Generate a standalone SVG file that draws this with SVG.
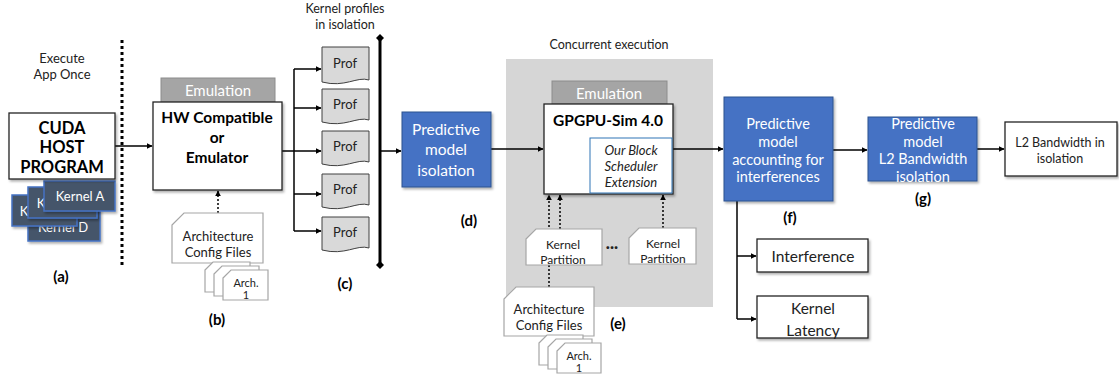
<svg xmlns="http://www.w3.org/2000/svg" width="1119" height="377" viewBox="0 0 1119 377">
<style>
text{font-family:Lato,"Open Sans","Liberation Sans",sans-serif;text-anchor:middle;dominant-baseline:central}
.lbl{font-weight:bold;fill:#000}
.cap{fill:#222}
.box{fill:#fff;stroke:#222;stroke-width:1.3}
.blue{fill:#4472C4;stroke:#2F528F;stroke-width:1}
.wt{fill:#fff}
.kern{fill:#44546A;stroke:#4472C4;stroke-width:1.5}
.tab{fill:#A5A5A5;stroke:#8c8c8c;stroke-width:1}
.cfg{fill:#fff;stroke:#A6A6A6;stroke-width:1.2}
.prof{fill:#D9D9D9;stroke:#404040;stroke-width:1}
.ln{fill:none;stroke:#000;stroke-width:1.5}
.dot{fill:none;stroke:#000;stroke-width:1.5;stroke-dasharray:2 2}
</style>
<defs>
<marker id="ah" viewBox="0 0 10 10" refX="9" refY="5" markerWidth="6" markerHeight="6" orient="auto" markerUnits="userSpaceOnUse"><path d="M0,0 L10,5 L0,10 Z" fill="#000"/></marker>
<marker id="dm" viewBox="0 0 10 10" refX="5" refY="5" markerWidth="8" markerHeight="8" orient="auto" markerUnits="userSpaceOnUse"><path d="M5,0 L10,5 L5,10 L0,5 Z" fill="#000"/></marker>
<filter id="sh" x="-10%" y="-10%" width="130%" height="130%"><feDropShadow dx="1.5" dy="2" stdDeviation="1.2" flood-color="#000" flood-opacity="0.3"/></filter>
</defs>

<rect id="concurrent-region" x="506" y="59" width="207" height="248" fill="#D6D6D6"/>

<g id="connectors">
<line x1="122" y1="40" x2="122" y2="268" stroke="#000" stroke-width="3" stroke-dasharray="3 3"/>
<line class="ln" x1="115" y1="146" x2="152" y2="146" marker-end="url(#ah)"/>
<line class="ln" x1="282" y1="151" x2="321" y2="151" marker-end="url(#ah)"/>
<line class="ln" x1="294" y1="69" x2="294" y2="231"/>
<line class="ln" x1="294" y1="69" x2="321" y2="69" marker-end="url(#ah)"/>
<line class="ln" x1="294" y1="108" x2="321" y2="108" marker-end="url(#ah)"/>
<line class="ln" x1="294" y1="194" x2="321" y2="194" marker-end="url(#ah)"/>
<line class="ln" x1="294" y1="231" x2="321" y2="231" marker-end="url(#ah)"/>
<line x1="380" y1="38" x2="380" y2="265" stroke="#000" stroke-width="3" marker-start="url(#dm)" marker-end="url(#dm)"/>
<line class="ln" x1="380" y1="151" x2="401" y2="151" marker-end="url(#ah)"/>
<line class="ln" x1="491" y1="149" x2="543" y2="149" marker-end="url(#ah)"/>
<line class="ln" x1="673" y1="149" x2="723" y2="149" marker-end="url(#ah)"/>
<line class="ln" x1="833" y1="150" x2="867" y2="150" marker-end="url(#ah)"/>
<line class="ln" x1="977" y1="149" x2="1004" y2="149" marker-end="url(#ah)"/>
<line class="ln" x1="737" y1="201" x2="737" y2="319"/>
<line class="ln" x1="737" y1="256" x2="756" y2="256" marker-end="url(#ah)"/>
<line class="ln" x1="737" y1="319" x2="756" y2="319" marker-end="url(#ah)"/>
<line class="dot" x1="218" y1="213" x2="218" y2="191" marker-end="url(#ah)"/>
<line class="dot" x1="549" y1="287" x2="549" y2="195" marker-end="url(#ah)"/>
<line class="dot" x1="560" y1="229" x2="560" y2="195" marker-end="url(#ah)"/>
<line class="dot" x1="663" y1="228" x2="663" y2="195" marker-end="url(#ah)"/>
</g>

<text class="cap" x="62" y="58" font-size="13">Execute</text>
<text class="cap" x="62" y="74" font-size="13">App Once</text>
<text class="cap" x="345" y="8" font-size="12.5">Kernel profiles</text>
<text class="cap" x="345" y="24" font-size="12.5">in isolation</text>
<text class="cap" x="609" y="44" font-size="12.5">Concurrent execution</text>

<g id="kernels">
<rect class="kern" x="28" y="210" width="72" height="31" filter="url(#sh)"/>
<text class="wt" x="63" y="227" font-size="13">Kernel D</text>
<rect class="kern" x="12" y="195" width="65" height="31" filter="url(#sh)"/>
<text class="wt" x="24" y="211" font-size="13">K</text>
<rect class="kern" x="28" y="187" width="69" height="31" filter="url(#sh)"/>
<text class="wt" x="41" y="203" font-size="13">K</text>
<rect class="kern" x="44" y="181" width="71" height="30" filter="url(#sh)"/>
<text class="wt" x="80" y="196" font-size="13">Kernel A</text>
</g>

<g id="cuda-host">
<rect class="box" x="9" y="113" width="106" height="66" filter="url(#sh)"/>
<text class="lbl" x="62" y="128" font-size="16.5">CUDA</text>
<text class="lbl" x="62" y="147" font-size="16.5">HOST</text>
<text class="lbl" x="62" y="167" font-size="16.5">PROGRAM</text>
</g>
<text class="lbl" x="61" y="276" font-size="15">(a)</text>

<g id="hw-emulator">
<rect class="tab" x="161" y="78" width="114" height="24"/>
<text class="wt" x="218" y="90" font-size="15">Emulation</text>
<rect class="box" x="153" y="102" width="129" height="88" filter="url(#sh)"/>
<text class="lbl" x="217" y="117" font-size="15.5">HW Compatible</text>
<text class="lbl" x="217" y="137" font-size="15.5">or</text>
<text class="lbl" x="217" y="157" font-size="15.5">Emulator</text>
</g>

<g id="arch-config-b">
<path class="cfg" d="M172,225 L184,213 L263,213 L263,263 L172,263 Z"/>
<text class="cap" x="218" y="236" font-size="13">Architecture</text>
<text class="cap" x="218" y="252" font-size="13">Config Files</text>
<path class="cfg" d="M205,270 L213,262 L250,262 L250,292 L205,292 Z"/>
<path class="cfg" d="M214,274 L222,266 L259,266 L259,296 L214,296 Z"/>
<path class="cfg" d="M223,278 L231,270 L268,270 L268,300 L223,300 Z"/>
<text class="cap" x="246" y="282" font-size="11">Arch.</text>
<text class="cap" x="246" y="294" font-size="11">1</text>
</g>
<text class="lbl" x="217" y="319" font-size="15">(b)</text>

<g id="profiles">
<path class="prof" d="M322,47 H369 V80 C357,76 345,88 322,82 Z"/>
<text class="cap" x="345" y="63" font-size="13">Prof</text>
<path class="prof" d="M322,89 H369 V120 C357,116 345,128 322,122 Z"/>
<text class="cap" x="345" y="104" font-size="13">Prof</text>
<path class="prof" d="M322,131 H369 V162 C357,158 345,170 322,164 Z"/>
<text class="cap" x="345" y="146" font-size="13">Prof</text>
<path class="prof" d="M322,174 H369 V205 C357,201 345,213 322,207 Z"/>
<text class="cap" x="345" y="189" font-size="13">Prof</text>
<path class="prof" d="M322,217 H369 V248 C357,244 345,256 322,250 Z"/>
<text class="cap" x="345" y="232" font-size="13">Prof</text>
</g>
<text class="lbl" x="345" y="283" font-size="15">(c)</text>

<g id="pred-isolation">
<rect class="blue" x="402" y="112" width="89" height="75" filter="url(#sh)"/>
<text class="wt" x="446" y="129" font-size="15.5">Predictive</text>
<text class="wt" x="446" y="149" font-size="15.5">model</text>
<text class="wt" x="446" y="170" font-size="15.5">isolation</text>
</g>
<text class="lbl" x="469" y="220" font-size="15">(d)</text>

<g id="gpgpu-sim">
<rect class="tab" x="552" y="81" width="115" height="23"/>
<text class="wt" x="609" y="93" font-size="15">Emulation</text>
<rect class="box" x="544" y="104" width="129" height="90" filter="url(#sh)"/>
<text class="lbl" x="608" y="120" font-size="15.5">GPGPU-Sim 4.0</text>
<rect x="590" y="138" width="82" height="55" fill="#fff" stroke="#2E75B6" stroke-width="1"/>
<text class="cap" x="631" y="150" font-style="italic" font-size="13">Our Block</text>
<text class="cap" x="631" y="166" font-style="italic" font-size="13">Scheduler</text>
<text class="cap" x="631" y="182" font-style="italic" font-size="13">Extension</text>
</g>

<g id="kernel-partition-1">
<path class="cfg" d="M526,239 L536,229 L602,229 L602,265 L526,265 Z"/>
<text class="cap" x="563" y="244" font-size="12">Kernel</text>
<text class="cap" x="563" y="259" font-size="12">Partition</text>
</g>
<text class="cap" x="612" y="246" font-size="15" font-weight="bold">···</text>
<g id="kernel-partition-2">
<path class="cfg" d="M629,238 L639,228 L696,228 L696,264 L629,264 Z"/>
<text class="cap" x="663" y="243" font-size="12">Kernel</text>
<text class="cap" x="663" y="258" font-size="12">Partition</text>
</g>

<g id="arch-config-e">
<path class="cfg" d="M504,299 L516,287 L594,287 L594,336 L504,336 Z"/>
<text class="cap" x="549" y="309" font-size="13">Architecture</text>
<text class="cap" x="549" y="325" font-size="13">Config Files</text>
<path class="cfg" d="M539,343 L547,335 L583,335 L583,365 L539,365 Z"/>
<path class="cfg" d="M548,347 L556,339 L592,339 L592,369 L548,369 Z"/>
<path class="cfg" d="M557,351 L565,343 L601,343 L601,373 L557,373 Z"/>
<text class="cap" x="579" y="355" font-size="11">Arch.</text>
<text class="cap" x="579" y="367" font-size="11">1</text>
</g>
<text class="lbl" x="618" y="323" font-size="15">(e)</text>

<g id="pred-interference">
<rect class="blue" x="724" y="97" width="109" height="104" filter="url(#sh)"/>
<text class="wt" x="778" y="123" font-size="14.5">Predictive</text>
<text class="wt" x="778" y="141" font-size="14.5">model</text>
<text class="wt" x="778" y="159" font-size="14.5">accounting for</text>
<text class="wt" x="778" y="176" font-size="14.5">interferences</text>
</g>
<text class="lbl" x="790" y="217" font-size="15">(f)</text>

<g id="pred-l2">
<rect class="blue" x="868" y="117" width="109" height="64" filter="url(#sh)"/>
<text class="wt" x="923" y="123" font-size="14.5">Predictive</text>
<text class="wt" x="923" y="141" font-size="14.5">model</text>
<text class="wt" x="923" y="158" font-size="14.5">L2 Bandwidth</text>
<text class="wt" x="923" y="176" font-size="14.5">isolation</text>
</g>
<text class="lbl" x="923" y="198" font-size="15">(g)</text>

<g id="l2-bandwidth">
<rect class="box" x="1005" y="122" width="112" height="54" filter="url(#sh)"/>
<text class="cap" x="1060" y="142" font-size="12.5">L2 Bandwidth in</text>
<text class="cap" x="1060" y="158" font-size="12.5">isolation</text>
</g>

<g id="interference">
<rect class="box" x="757" y="239" width="111" height="33" filter="url(#sh)"/>
<text class="cap" x="813" y="256" font-size="15.5">Interference</text>
</g>

<g id="kernel-latency">
<rect class="box" x="757" y="296" width="111" height="42" filter="url(#sh)"/>
<text class="cap" x="813" y="308" font-size="15.5">Kernel</text>
<text class="cap" x="813" y="330" font-size="15.5">Latency</text>
</g>
</svg>
